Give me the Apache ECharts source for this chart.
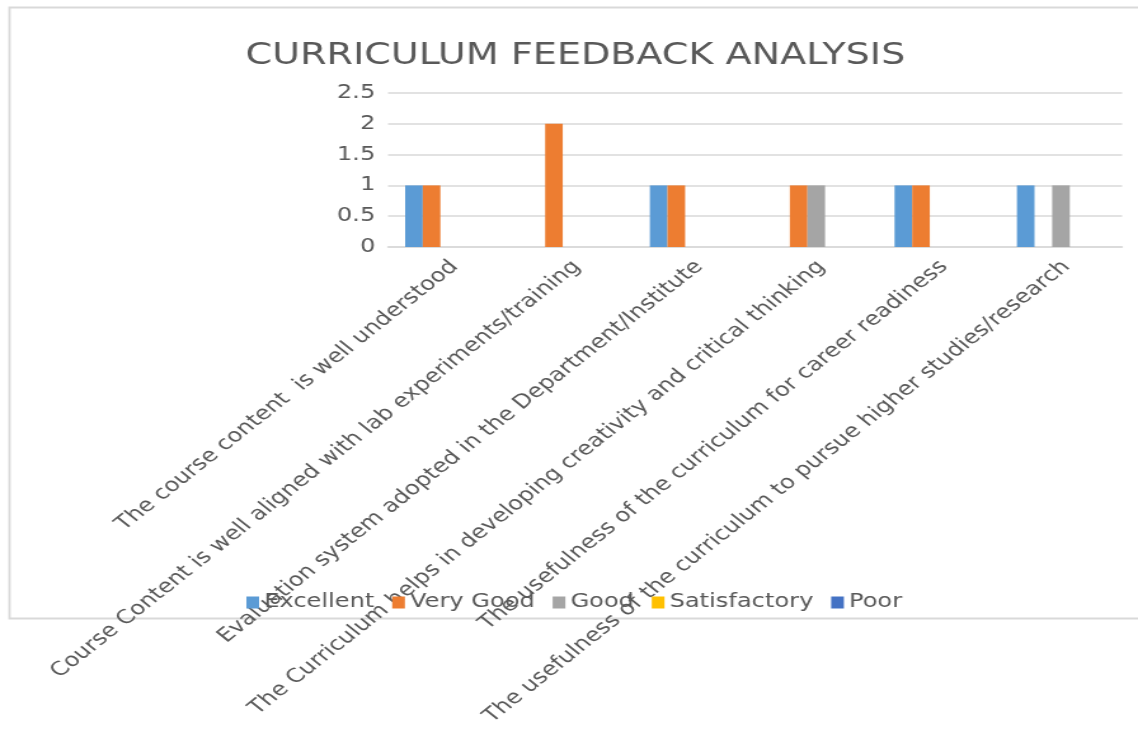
<!DOCTYPE html>
<html>
<head>
<meta charset="utf-8">
<script src="https://cdn.jsdelivr.net/npm/echarts@6/dist/echarts.min.js"></script>
<style>
  html, body { margin: 0; padding: 0; background: #ffffff; overflow: hidden; }
  #chart { width: 896px; height: 742px; transform: scaleX(1.2701); transform-origin: 0 0; }
</style>
</head>
<body>
<div id="chart"></div>
<script>
const categories = [
  "The course content  is well understood",
  "Course Content is well aligned with lab experiments/training",
  "Evaluation system adopted in the Department/Institute",
  "The Curriculum helps in developing creativity and critical thinking",
  "The usefulness of the curriculum for career readiness",
  "The usefulness of the curriculum to pursue higher studies/research"
];
const seriesNames = ["Excellent", "Very Good", "Good", "Satisfactory", "Poor"];
const excellent = [1, 0, 1, 0, 1, 1];
const veryGood = [1, 2, 1, 1, 1, 0];
const good = [0, 0, 0, 1, 0, 1];
const satisfactory = [0, 0, 0, 0, 0, 0];
const poor = [0, 0, 0, 0, 0, 0];
const yTicks = { min: 0, max: 2.5, interval: 0.5 };

const colors = ["#5B9BD5", "#ED7D31", "#A5A5A5", "#FFC000", "#4472C4"];
const values = [excellent, veryGood, good, satisfactory, poor];
const FONT = "DejaVu Sans";
const TXT = "#595959";

const chart = echarts.init(document.getElementById("chart"), null, { renderer: "canvas" });
chart.setOption({
  animation: false,
  backgroundColor: "#ffffff",
  color: colors,
  graphic: [{
    type: "rect",
    left: 5, top: 5,
    shape: { width: 900, height: 611 },
    style: { fill: "none", stroke: "#d9d9d9", lineWidth: 1.8 },
    silent: true, z: -10
  }],
  title: {
    text: "CURRICULUM FEEDBACK ANALYSIS",
    left: 448, top: 36,
    textAlign: "center",
    textStyle: { fontFamily: FONT, fontSize: 30, fontWeight: "normal", color: TXT }
  },
  legend: {
    data: seriesNames,
    left: 189, top: 588,
    itemWidth: 10, itemHeight: 12, itemGap: 14,
    icon: "rect",
    textStyle: { fontFamily: FONT, fontSize: 19, color: TXT, padding: [0, 0, 0, -1] }
  },
  grid: { left: 305.5, right: 12.5, top: 93, bottom: 495, containLabel: false, outerBoundsMode: "none" },
  xAxis: {
    type: "category",
    data: categories,
    axisLine: { show: true, lineStyle: { color: "#d9d9d9", width: 1.5 } },
    axisTick: { show: false },
    axisLabel: {
      interval: 0, rotate: 45, margin: 21,
      padding: [0, -6, 0, 0],
      fontFamily: FONT, fontSize: 19.2, color: TXT
    }
  },
  yAxis: {
    type: "value",
    min: yTicks.min, max: yTicks.max, interval: yTicks.interval,
    axisLine: { show: false },
    axisTick: { show: false },
    splitLine: { lineStyle: { color: "#d9d9d9", width: 1.5 } },
    axisLabel: { fontFamily: FONT, fontSize: 19, color: TXT, margin: 10 }
  },
  series: seriesNames.map((name, i) => ({
    name: name,
    type: "bar",
    data: values[i],
    barGap: "0%",
    barCategoryGap: "28%",
    itemStyle: { color: colors[i] }
  }))
});
</script>
</body>
</html>
